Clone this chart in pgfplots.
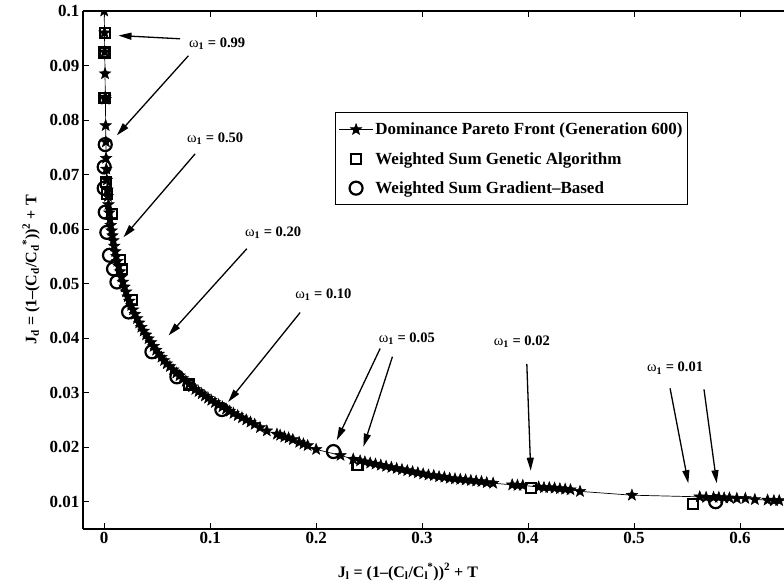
\documentclass[border=0pt]{standalone}
\usepackage{fontspec}
\setmainfont{Liberation Serif}
\usepackage{pgfplots}
\pgfplotsset{compat=1.18}
\usetikzlibrary{arrows.meta}

% filled five-point star, like MATLAB's 'p' marker
\pgfdeclareplotmark{fstar}{%
  \pgfpathmoveto{\pgfpointpolar{90}{\pgfplotmarksize}}%
  \pgfpathlineto{\pgfpointpolar{126}{0.42\pgfplotmarksize}}%
  \pgfpathlineto{\pgfpointpolar{162}{\pgfplotmarksize}}%
  \pgfpathlineto{\pgfpointpolar{198}{0.42\pgfplotmarksize}}%
  \pgfpathlineto{\pgfpointpolar{234}{\pgfplotmarksize}}%
  \pgfpathlineto{\pgfpointpolar{270}{0.42\pgfplotmarksize}}%
  \pgfpathlineto{\pgfpointpolar{306}{\pgfplotmarksize}}%
  \pgfpathlineto{\pgfpointpolar{342}{0.42\pgfplotmarksize}}%
  \pgfpathlineto{\pgfpointpolar{18}{\pgfplotmarksize}}%
  \pgfpathlineto{\pgfpointpolar{54}{0.42\pgfplotmarksize}}%
  \pgfpathclose
  \pgfusepathqfillstroke
}

\newcommand\tickfont{\fontsize{17}{17}\selectfont\bfseries}
\newcommand\labfont{\fontsize{16}{16}\selectfont\bfseries}
\newcommand\annfont{\fontsize{14.5}{14.5}\selectfont\bfseries}
\newcommand\om{{\mdseries ω}\textsubscript{1}}

\begin{document}
\begin{tikzpicture}
\begin{axis}[
    scale only axis,
    width=701pt, height=518pt,
    xmin=-0.02, xmax=0.6415,
    ymin=0.005, ymax=0.1,
    axis y line*=left,
    axis x line*=box,
    axis line style={line width=1.3pt},
    tick align=inside,
    major tick length=6pt,
    every tick/.style={black, line width=0.8pt},
    xtick={0,0.1,0.2,0.3,0.4,0.5,0.6},
    xticklabels={0,0.1,0.2,0.3,0.4,0.5,0.6},
    ytick={0.01,0.02,0.03,0.04,0.05,0.06,0.07,0.08,0.09,0.1},
    yticklabels={0.01,0.02,0.03,0.04,0.05,0.06,0.07,0.08,0.09,0.1},
    /pgf/number format/assume math mode=true,
    ticklabel style={font=\tickfont},
    xlabel={J\textsubscript{l} = (1–(C\textsubscript{l}/C\textsubscript{l}\kern-0.05em\textsuperscript{*}))\textsuperscript{2} + T},
    ylabel={J\textsubscript{d} = (1–(C\textsubscript{d}/C\textsubscript{d}\kern-0.05em\textsuperscript{*}))\textsuperscript{2} + T},
    every axis x label/.style={at={(axis description cs:0.4636,-0.083)}, anchor=center, font=\labfont},
    every axis y label/.style={at={(axis description cs:-0.074,0.5)}, rotate=90, anchor=center, font=\labfont},
    clip marker paths=true,
    legend image code/.code={\draw[mark repeat=2,mark phase=2,#1] plot coordinates {(0pt,0pt) (17pt,0pt) (34pt,0pt)};},
    legend cell align=left,
    legend style={at={(axis cs:0.218,0.0814)}, anchor=north west, draw=black, line width=1pt,
        font=\tickfont, inner xsep=3pt, inner ysep=8pt, row sep=12pt},
]

% Dominance Pareto front, generation 600
\addplot[black, line width=0.7pt, mark=fstar, mark size=6pt, mark options={line width=0.5pt}] coordinates {
(0.0000,0.1000) (0.0003,0.0960) (0.0005,0.0925) (0.0008,0.0885) (0.0010,0.0842)
(0.0012,0.0838) (0.0014,0.0790) (0.0016,0.0760) (0.0018,0.0730) (0.0020,0.0710)
(0.0025,0.0690) (0.0030,0.0672) (0.0035,0.0660) (0.0040,0.0645) (0.0048,0.0630)
(0.0055,0.0618) (0.0062,0.0607) (0.0070,0.0597) (0.0078,0.0588) (0.0086,0.0579)
(0.0095,0.0569) (0.0105,0.0559) (0.0115,0.0550) (0.0125,0.0541) (0.0137,0.0532)
(0.0150,0.0522) (0.0163,0.0512) (0.0177,0.0503) (0.0192,0.0494) (0.0207,0.0485)
(0.0222,0.0476) (0.0238,0.0468) (0.0255,0.0460) (0.0272,0.0452) (0.0290,0.0444)
(0.0310,0.0436) (0.0330,0.0428) (0.0350,0.0420) (0.0372,0.0413) (0.0395,0.0406)
(0.0418,0.0399) (0.0442,0.0392) (0.0466,0.0385) (0.0490,0.0378) (0.0515,0.0371)
(0.0540,0.0365) (0.0565,0.0359) (0.0590,0.0353) (0.0620,0.0348) (0.0650,0.0342)
(0.0680,0.0336) (0.0710,0.0331) (0.0740,0.0326) (0.0770,0.0321) (0.0800,0.0316)
(0.0830,0.0311) (0.0860,0.0306) (0.0890,0.0302) (0.0920,0.0298) (0.0950,0.0294)
(0.0980,0.0290) (0.1010,0.0286) (0.1045,0.0282) (0.1080,0.0278) (0.1115,0.0274)
(0.1150,0.0270) (0.1185,0.0266) (0.1220,0.0262) (0.1260,0.0258) (0.1300,0.0254)
(0.1340,0.0250) (0.1380,0.0246) (0.1420,0.0242) (0.1470,0.0236) (0.1535,0.0230)
(0.1630,0.0224) (0.1660,0.0222) (0.1700,0.0219) (0.1740,0.0217) (0.1780,0.0214)
(0.1840,0.0209) (0.1880,0.0206) (0.1920,0.0203) (0.2000,0.0196) (0.2230,0.0185)
(0.2350,0.0178) (0.2415,0.0175) (0.2460,0.0173) (0.2510,0.0171) (0.2560,0.0169)
(0.2610,0.0167) (0.2660,0.0165) (0.2710,0.0163) (0.2760,0.0161) (0.2810,0.0159)
(0.2860,0.0157) (0.2910,0.0155) (0.2960,0.0153) (0.3010,0.0151) (0.3060,0.0149)
(0.3110,0.0148) (0.3160,0.0146) (0.3210,0.0145) (0.3260,0.0143) (0.3310,0.0142)
(0.3360,0.0141) (0.3410,0.0140) (0.3460,0.0139) (0.3510,0.0138) (0.3560,0.0137)
(0.3610,0.0135) (0.3670,0.0134) (0.3850,0.0131) (0.3900,0.0130) (0.3950,0.0130)
(0.4100,0.0127) (0.4150,0.0126) (0.4200,0.0126) (0.4250,0.0125) (0.4300,0.0124)
(0.4350,0.0123) (0.4400,0.0122) (0.4490,0.0119) (0.4980,0.0112) (0.5620,0.0109)
(0.5680,0.0108) (0.5750,0.0108) (0.5800,0.0108) (0.5850,0.0107) (0.5900,0.0107)
(0.5970,0.0106) (0.6050,0.0106) (0.6140,0.0104) (0.6260,0.0103) (0.6320,0.0102)
(0.6370,0.0102) (0.6420,0.0102) (0.6500,0.0101)
};
\addlegendentry{Dominance Pareto Front (Generation 600)}

% weighted sum, genetic algorithm
\addplot[black, only marks, mark=square, mark size=5pt, mark options={line width=2.2pt}] coordinates {
(0.0005,0.0960) (0.0002,0.0924) (0.0002,0.0841) (0.0008,0.0840) (0.0015,0.0686)
(0.0030,0.0665) (0.0070,0.0628) (0.0150,0.0543) (0.0167,0.0527) (0.0260,0.0470)
(0.0800,0.0315) (0.2390,0.0167) (0.4025,0.0125) (0.5560,0.0096)
};
\addlegendentry{Weighted Sum Genetic Algorithm}

% weighted sum, gradient-based
\addplot[black, only marks, mark=o, mark size=6.5pt, mark options={line width=2.2pt}] coordinates {
(0.0010,0.0755) (0.0000,0.0714) (0.0000,0.0675) (0.0010,0.0631) (0.0025,0.0594)
(0.0050,0.0552) (0.0088,0.0527) (0.0120,0.0503) (0.0230,0.0448) (0.0450,0.0375)
(0.0686,0.0329) (0.1110,0.0269) (0.2163,0.0192) (0.5770,0.0100)
};
\addlegendentry{Weighted Sum Gradient–Based}

% annotations
\begin{scope}[line width=1.3pt, -{Triangle[length=13pt,width=7pt]}]
\draw (axis cs:0.0717,0.0949) -- (axis cs:0.0135,0.0955);
\draw (axis cs:0.0795,0.0918) -- (axis cs:0.0120,0.0772);
\draw (axis cs:0.0858,0.0738) -- (axis cs:0.0182,0.0585);
\draw (axis cs:0.1346,0.0564) -- (axis cs:0.0607,0.0405);
\draw (axis cs:0.1849,0.0447) -- (axis cs:0.1170,0.0283);
\draw (axis cs:0.2604,0.0381) -- (axis cs:0.2195,0.0213);
\draw (axis cs:0.2720,0.0366) -- (axis cs:0.2446,0.0201);
\draw (axis cs:0.3988,0.0353) -- (axis cs:0.4025,0.0157);
\draw (axis cs:0.5340,0.0308) -- (axis cs:0.5512,0.0134);
\draw (axis cs:0.5660,0.0306) -- (axis cs:0.5780,0.0134);
\end{scope}
\node[font=\annfont] at (axis cs:0.1066,0.0940) {\om{} = 0.99};
\node[font=\annfont] at (axis cs:0.1047,0.0766) {\om{} = 0.50};
\node[font=\annfont] at (axis cs:0.1594,0.0594) {\om{} = 0.20};
\node[font=\annfont] at (axis cs:0.2069,0.0479) {\om{} = 0.10};
\node[font=\annfont] at (axis cs:0.2856,0.0399) {\om{} = 0.05};
\node[font=\annfont] at (axis cs:0.3941,0.0393) {\om{} = 0.02};
\node[font=\annfont] at (axis cs:0.5387,0.0345) {\om{} = 0.01};

\coordinate (ll) at (rel axis cs:0,0);
\coordinate (ur) at (rel axis cs:1,1);
\end{axis}
\pgfresetboundingbox
\useasboundingbox ([xshift=-83pt,yshift=-56pt]ll) rectangle ([yshift=11pt]ur);
\end{tikzpicture}
\end{document}
